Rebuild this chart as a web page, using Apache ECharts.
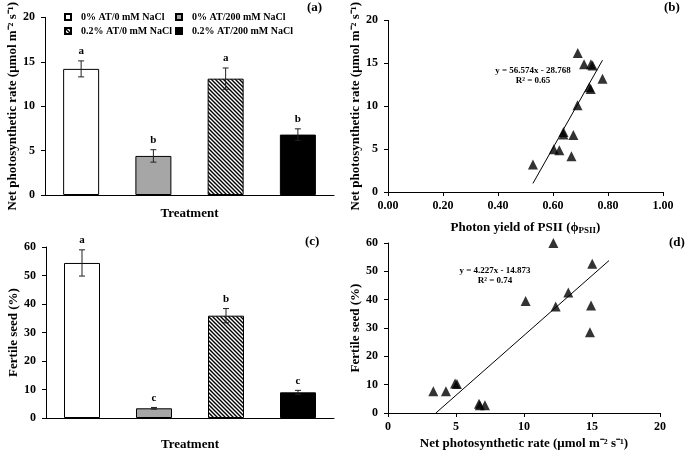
<!DOCTYPE html>
<html><head><meta charset="utf-8">
<script src="https://cdn.jsdelivr.net/npm/echarts@6/dist/echarts.min.js"></script>
<style>html,body{margin:0;padding:0;background:#fff}#c{width:685px;height:453px}</style>
</head><body><div id="c"></div>
<script>
// ---- data ----
const treatments = ['0% AT/0 mM NaCl', '0% AT/200 mM NaCl', '0.2% AT/0 mM NaCl', '0.2% AT/200 mM NaCl'];
const photoMean = [14.2, 4.4, 13.1, 6.8];
const photoErr = [0.9, 0.7, 1.2, 0.65];
const photoLetters = ['a', 'b', 'a', 'b'];
const seedMean = [54.4, 3.4, 35.9, 9.0];
const seedErr = [4.6, 0.3, 2.5, 0.7];
const seedLetters = ['a', 'c', 'b', 'c'];
// panel (b): photon yield of PSII vs net photosynthetic rate
const yieldX = [0.527, 0.603, 0.623, 0.667, 0.638, 0.638, 0.674, 0.689, 0.732, 0.737, 0.780, 0.690, 0.713, 0.738, 0.744];
const yieldY = [3.2, 4.98, 4.87, 4.17, 7.0, 6.7, 6.64, 10.1, 12.2, 12.0, 13.2, 16.2, 14.9, 14.9, 14.75];
// panel (d): net photosynthetic rate vs fertile seed
const rateX = [3.33, 4.26, 4.93, 5.07, 6.69, 6.75, 7.13, 10.12, 12.16, 12.33, 13.26, 15.02, 14.93, 14.85];
const rateY = [7.7, 7.7, 10.4, 10.2, 3.3, 2.7, 2.7, 39.5, 60.0, 37.6, 42.5, 52.7, 37.9, 28.5];
// regression line endpoints
const fitB = [[0.527, 1.0], [0.78, 15.36]];
const fitD = [[3.52, 0], [16.25, 53.8]];
const eqB = ['y = 56.574x - 28.768', 'R² = 0.65'];
const eqD = ['y = 4.227x - 14.873', 'R² = 0.74'];

// ---- styling helpers ----
const FF = '"Liberation Serif", "Times New Roman", serif';
function hatch() {
  const s = 4;
  const c = document.createElement('canvas'); c.width = s; c.height = s;
  const g = c.getContext('2d');
  g.fillStyle = '#fff'; g.fillRect(0, 0, s, s);
  g.strokeStyle = '#000'; g.lineWidth = 1.4;
  g.beginPath();
  g.moveTo(-1, -1); g.lineTo(s + 1, s + 1);
  g.moveTo(-1, s - 1); g.lineTo(1, s + 1);
  g.moveTo(s - 1, -1); g.lineTo(s + 1, 1);
  g.stroke();
  return c;
}
const fills = ['#ffffff', '#a6a6a6', { image: hatch(), repeat: 'repeat' }, '#000000'];

const axisLine = { show: true, lineStyle: { color: '#000', width: 1 } };
const tick = { show: true, length: 4, lineStyle: { color: '#000' } };
const lab = { color: '#000', fontFamily: FF, fontWeight: 'bold', fontSize: 12 };
const nameStyle = { color: '#000', fontFamily: FF, fontWeight: 'bold', fontSize: 13 };

function barSeries(gi, means) {
  return treatments.map((n, i) => ({
    type: 'bar', name: n, xAxisIndex: gi, yAxisIndex: gi,
    barWidth: 36, barGap: '-100%',
    data: means.map((v, j) => (j === i ? v : '-')),
    itemStyle: { color: fills[i], borderColor: '#000', borderWidth: 1 },
    emphasis: { disabled: true }
  }));
}
function errSeries(gi, means, errs, letters) {
  return {
    type: 'custom', xAxisIndex: gi, yAxisIndex: gi, z: 5,
    data: means.map((m, i) => [i, m, errs[i]]),
    renderItem: (params, api) => {
      const x = api.value(0), m = api.value(1), e = api.value(2);
      const t = api.coord([x, m + e]), b = api.coord([x, m - e]);
      const w = 3;
      const st = { stroke: '#222', lineWidth: 1 };
      return { type: 'group', children: [
        { type: 'line', shape: { x1: t[0], y1: t[1], x2: b[0], y2: b[1] }, style: st },
        { type: 'line', shape: { x1: t[0] - w, y1: t[1], x2: t[0] + w, y2: t[1] }, style: st },
        { type: 'line', shape: { x1: b[0] - w, y1: b[1], x2: b[0] + w, y2: b[1] }, style: st },
        { type: 'text', style: { text: letters[params.dataIndex], x: t[0], y: t[1] - 4, align: 'center', verticalAlign: 'bottom', font: 'bold 11px ' + FF, fill: '#000' } }
      ] };
    }
  };
}

const grids = [
  { left: 45, top: 10, width: 289, height: 185 },
  { left: 388, top: 11, width: 275, height: 181 },
  { left: 46, top: 247, width: 288, height: 171 },
  { left: 388, top: 243, width: 272, height: 170 }
];

const option = {
  animation: false,
  backgroundColor: '#fff',
  grid: grids,
  legend: treatments.map((n, i) => ({
    data: [n], left: i % 2 ? 175 : 64, top: i < 2 ? 12 : 26, padding: 0,
    itemWidth: 6, itemHeight: 6, icon: 'rect', selectedMode: false,
    textStyle: { color: '#000', fontFamily: FF, fontWeight: 'bold', fontSize: 10, padding: [0, 0, 0, 5] }
  })),
  xAxis: [
    { type: 'category', gridIndex: 0, data: treatments, axisLine, axisTick: { show: false }, axisLabel: { show: false },
      name: 'Treatment', nameLocation: 'middle', nameGap: 12, nameTextStyle: nameStyle },
    { type: 'value', gridIndex: 1, min: 0, max: 1, interval: 0.2, axisLine, axisTick: tick, splitLine: { show: false },
      axisLabel: Object.assign({ margin: 8, formatter: v => v.toFixed(2) }, lab),
      name: '{n|Photon yield of PSII (ϕ}{s|PSII}{n|)}', nameLocation: 'middle', nameGap: 28,
      nameTextStyle: { rich: { n: nameStyle, s: { color: '#000', fontFamily: FF, fontWeight: 'bold', fontSize: 9, padding: [6, 0, 0, 0] } } } },
    { type: 'category', gridIndex: 2, data: treatments, axisLine, axisTick: { show: false }, axisLabel: { show: false },
      name: 'Treatment', nameLocation: 'middle', nameGap: 20, nameTextStyle: nameStyle },
    { type: 'value', gridIndex: 3, min: 0, max: 20, interval: 5, axisLine, axisTick: tick, splitLine: { show: false },
      axisLabel: Object.assign({ margin: 8 }, lab),
      name: 'Net photosynthetic rate (μmol m⁻² s⁻¹)', nameLocation: 'middle', nameGap: 24, nameTextStyle: nameStyle }
  ],
  yAxis: [
    { type: 'value', gridIndex: 0, min: 0, max: 20, interval: 5, axisLine, axisTick: tick, splitLine: { show: false },
      axisLabel: Object.assign({ margin: 10 }, lab),
      name: 'Net photosynthetic rate (μmol m⁻² s⁻¹)', nameLocation: 'middle', nameGap: 26, nameTextStyle: nameStyle },
    { type: 'value', gridIndex: 1, min: 0, max: 20, interval: 5, axisLine, axisTick: tick, splitLine: { show: false },
      axisLabel: Object.assign({ margin: 10 }, lab),
      name: 'Net photosynthetic rate (μmol m⁻² s⁻¹)', nameLocation: 'middle', nameGap: 26, nameTextStyle: nameStyle },
    { type: 'value', gridIndex: 2, min: 0, max: 60, interval: 10, axisLine, axisTick: tick, splitLine: { show: false },
      axisLabel: Object.assign({ margin: 10 }, lab),
      name: 'Fertile seed (%)', nameLocation: 'middle', nameGap: 26, nameTextStyle: nameStyle },
    { type: 'value', gridIndex: 3, min: 0, max: 60, interval: 10, axisLine, axisTick: tick, splitLine: { show: false },
      axisLabel: Object.assign({ margin: 10 }, lab),
      name: 'Fertile seed (%)', nameLocation: 'middle', nameGap: 26, nameTextStyle: nameStyle }
  ],
  series: [
    ...barSeries(0, photoMean),
    errSeries(0, photoMean, photoErr, photoLetters),
    ...barSeries(2, seedMean),
    errSeries(2, seedMean, seedErr, seedLetters),
    { type: 'scatter', xAxisIndex: 1, yAxisIndex: 1, symbol: 'triangle', symbolSize: 10,
      itemStyle: { color: '#000' }, data: yieldX.map((x, i) => [x, yieldY[i]]) },
    { type: 'line', xAxisIndex: 1, yAxisIndex: 1, data: fitB, showSymbol: false, symbol: 'none',
      lineStyle: { color: '#000', width: 1 } },
    { type: 'scatter', xAxisIndex: 3, yAxisIndex: 3, symbol: 'triangle', symbolSize: 10,
      itemStyle: { color: '#000' }, data: rateX.map((x, i) => [x, rateY[i]]) },
    { type: 'line', xAxisIndex: 3, yAxisIndex: 3, data: fitD, showSymbol: false, symbol: 'none',
      lineStyle: { color: '#000', width: 1 } }
  ],
  graphic: [
    { type: 'text', left: 307, top: 1, style: { text: '(a)', font: 'bold 13px ' + FF, fill: '#000' } },
    { type: 'text', left: 664, top: 1, style: { text: '(b)', font: 'bold 13px ' + FF, fill: '#000' } },
    { type: 'text', left: 305, top: 235, style: { text: '(c)', font: 'bold 13px ' + FF, fill: '#000' } },
    { type: 'text', left: 669, top: 236, style: { text: '(d)', font: 'bold 13px ' + FF, fill: '#000' } },
    { type: 'text', x: 533, y: 71, style: { text: eqB[0], align: 'center', verticalAlign: 'middle', font: 'bold 9px ' + FF, fill: '#000' } },
    { type: 'text', x: 533, y: 81, style: { text: eqB[1], align: 'center', verticalAlign: 'middle', font: 'bold 9px ' + FF, fill: '#000' } },
    { type: 'text', x: 495, y: 271, style: { text: eqD[0], align: 'center', verticalAlign: 'middle', font: 'bold 9px ' + FF, fill: '#000' } },
    { type: 'text', x: 495, y: 281, style: { text: eqD[1], align: 'center', verticalAlign: 'middle', font: 'bold 9px ' + FF, fill: '#000' } }
  ]
};
const chart = echarts.init(document.getElementById('c'), null, { renderer: 'canvas' });
chart.setOption(option);
</script>
</body></html>
